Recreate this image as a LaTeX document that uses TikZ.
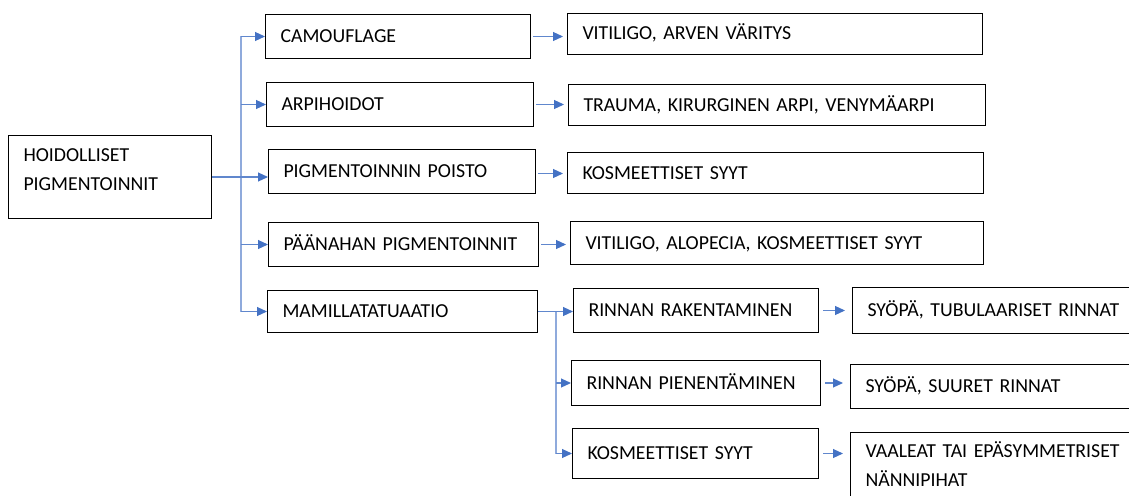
\documentclass[tikz,border=0pt]{standalone}
\usepackage{fontspec}
\setmainfont[WordSpace=0.75]{Carlito}
\usetikzlibrary{arrows.meta,calc}
\definecolor{arrowblue}{HTML}{4472C4}
\definecolor{lineblue}{HTML}{8FAADC}
\uchyph=0

\begin{document}
\begin{tikzpicture}[
		x=1pt, y=-1pt,
		box/.style={draw, line width=1pt, anchor=north west, align=left, inner xsep=15pt, inner ysep=0pt, text height=15pt, text depth=3pt, font=\fontsize{19.8}{29}\selectfont},
		arr/.style={draw=arrowblue!85, line width=1.1pt, -{Triangle[length=10pt, width=9pt, color=arrowblue]}},
		busline/.style={draw=lineblue, line width=1.6pt},
	]
		\useasboundingbox (0,0) rectangle (1129,495);

		\node (hoi) [box, text width=173pt, minimum height=83pt, text depth=46pt] at (8,135) {HOIDOLLISET\\PIGMENTOINNIT};

		\node (cam) [box, text width=235pt, minimum height=44pt] at (265,14) {CAMOUFLAGE};
		\node (arp) [box, text width=237pt, minimum height=44pt] at (266,82) {ARPIHOIDOT};
		\node (pgp) [box, text width=237pt, minimum height=44pt] at (268,149) {PIGMENTOINNIN POISTO};
		\node (pnh) [box, text width=240pt, minimum height=44pt] at (268,222) {PÄÄNAHAN PIGMENTOINNIT};
		\node (mam) [box, text width=240pt, minimum height=42pt] at (267,290) {MAMILLATATUAATIO};

		\node (vit1) [box, text width=385pt, minimum height=41pt] at (567,13) {VITILIGO, ARVEN VÄRITYS};
		\node (tra) [box, text width=387pt, minimum height=41pt] at (568,84) {TRAUMA, KIRURGINEN ARPI, VENYMÄARPI};
		\node (kos1) [box, text width=386pt, minimum height=41pt] at (567,152) {KOSMEETTISET SYYT};
		\node (vit2) [box, text width=383pt, minimum height=43pt] at (570,221) {VITILIGO, ALOPECIA, KOSMEETTISET SYYT};

		\node (rak) [box, text width=215pt, minimum height=44pt] at (573,288) {RINNAN RAKENTAMINEN};
		\node (pie) [box, text width=219pt, minimum height=45pt] at (571,360) {RINNAN PIENENTÄMINEN};
		\node (kos2) [box, text width=216pt, minimum height=50pt] at (572,428) {KOSMEETTISET SYYT};

		\node (syo1) [box, text width=290pt, minimum height=46pt] at (852,287) {SYÖPÄ, TUBULAARISET RINNAT};
		\node (syo2) [box, text width=290pt, minimum height=44pt] at (850,364) {SYÖPÄ, SUURET RINNAT};
		\node (vaa) [box, text width=290pt, minimum height=70pt, text depth=36pt] at (850,432) {VAALEAT TAI EPÄSYMMETRISET\\NÄNNIPIHAT};

		\coordinate (bus1) at ($(hoi.east)+(29,0)$);
		\coordinate (bus2) at ($(mam.east)+(18,0)$);

		\draw[busline] (bus1 |- cam.west) -- (bus1 |- mam.west);
		\draw[arr] (hoi.east) -- (hoi.east -| pgp.west);
		\foreach \n in {cam, arp, pnh, mam}
			\draw[arr] (bus1 |- \n.west) -- (\n.west);

		\draw[arr, shorten <=2pt, shorten >=4pt] (cam.east) -- (cam.east -| vit1.west);
		\draw[arr, shorten <=2pt, shorten >=4pt] (arp.east) -- (arp.east -| tra.west);
		\draw[arr, shorten <=2pt, shorten >=4pt] ($(pgp.east)+(0,2)$) -- ($(pgp.east -| kos1.west)+(0,2)$);
		\draw[arr, shorten <=2pt, shorten >=4pt] (pnh.east) -- (pnh.east -| vit2.west);

		\draw[busline] (bus2) -- (bus2 |- kos2.west);
		\draw[arr] (mam.east) -- (mam.east -| rak.west);
		\draw[arr] (bus2 |- pie.west) -- (pie.west);
		\draw[arr] (bus2 |- kos2.west) -- (kos2.west);

		\draw[arr, shorten <=4pt, shorten >=7pt] (rak.east) -- (rak.east -| syo1.west);
		\draw[arr, shorten <=4pt, shorten >=7pt] (pie.east) -- (pie.east -| syo2.west);
		\draw[arr, shorten <=4pt, shorten >=7pt] (kos2.east) -- (kos2.east -| vaa.west);
	\end{tikzpicture}
\end{document}
